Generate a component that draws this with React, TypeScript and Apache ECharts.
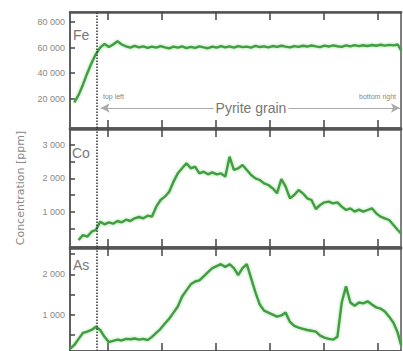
import React, { useEffect, useRef } from "react";
import * as echarts from "echarts";

// distance along the traverse (arbitrary units)
const distance = [
  0, 8, 16, 24, 32, 40, 48, 56, 64, 72, 80, 88, 96, 104, 112, 120, 128, 136, 144, 152,
  160, 168, 176, 184, 192, 200, 208, 216, 224, 232, 240, 248, 256, 264, 272, 280, 288, 296, 304, 312,
  320, 328, 336, 344, 352, 360, 368, 376, 384, 392, 400, 408, 416, 424, 432, 440, 448, 456, 464, 472,
  480, 488, 496, 504, 512, 520, 528, 536, 544, 552, 560, 568, 576, 584, 592, 600, 608, 614,
];

const fe = [
  null, 17000, 23000, 31000, 40000, 48000, 55000, 60000, 63000, 60500, 62500, 65000, 62500, 61000, 60000, 61500, 60200, 61000, 59800, 60800,
  60000, 61200, 60300, 59500, 60800, 60000, 61000, 59700, 60600, 59800, 61000, 60200, 59600, 60900, 60100, 61300, 60200, 61000, 60000, 61200,
  60400, 60800, 60100, 61400, 60500, 61000, 60200, 61300, 60600, 61500, 60800, 60200, 61200, 60600, 61500, 60900, 61700, 61000, 60400, 61600,
  60900, 61800, 61100, 60600, 61800, 61000, 62000, 61200, 61900, 61300, 62100, 61500, 62300, 61600, 62200, 61800, 62500, 58000,
];

const co = [
  null, null, 150, 300, 250, 400, 450, 700, 620, 680, 640, 720, 680, 760, 720, 800, 840, 800, 880, 850,
  1150, 1350, 1450, 1600, 1900, 2150, 2300, 2450, 2300, 2350, 2150, 2200, 2120, 2180, 2120, 2150, 2050, 2650, 2250, 2300,
  2400, 2250, 2100, 2000, 1950, 1850, 1800, 1700, 1550, 1980, 1750, 1400, 1500, 1650, 1550, 1400, 1350, 1080, 1200, 1280,
  1300, 1250, 1280, 1150, 1050, 1100, 1000, 1060, 1000, 1050, 1100, 950, 850, 800, 750, 600, 450, 350,
];

const as = [
  150, 250, 400, 550, 580, 620, 700, 620, 450, 320, 350, 380, 360, 400, 390, 410, 380, 400, 370, 450,
  550, 650, 780, 900, 1050, 1200, 1450, 1600, 1750, 1820, 1850, 1950, 2050, 2150, 2200, 2250, 2180, 2250, 2150, 1980,
  2150, 2250, 1900, 1550, 1250, 1100, 1050, 1000, 950, 980, 1050, 820, 720, 680, 650, 620, 600, 580, 480, 430,
  400, 380, 450, 1300, 1700, 1300, 1220, 1300, 1280, 1330, 1250, 1180, 1150, 1080, 950, 800, 550, 250,
];

const xTicks = [70, 170, 270, 370, 470, 570];
const feTicks = [20000, 40000, 60000, 80000];
const coLabels = [1000, 2000, 3000];
const coTicks = [500, 1000, 1500, 2000, 2500, 3000];
const asLabels = [1000, 2000];
const asTicks = [500, 1000, 1500, 2000, 2500];
const elements = ["Fe", "Co", "As"];
const grainStart = 50;
const arrowLevel = 12700;

const fmt = (v: number) => {
  const s = String(Math.round(v));
  return s.length > 3 ? s.slice(0, s.length - 3) + " " + s.slice(-3) : s;
};

export default function App() {
  const ref = useRef<HTMLDivElement>(null);
  useEffect(() => {
    if (!ref.current) return;
    const chart = echarts.init(ref.current, null, { renderer: "svg" });
    const grids = [
      { left: 70, top: 12, width: 331, height: 116 },
      { left: 70, top: 129, width: 331, height: 118 },
      { left: 70, top: 248, width: 331, height: 106 },
    ].map((g) => ({ ...g, show: true, borderColor: "#555", borderWidth: 1.5, backgroundColor: "#fff" }));

    const xAxes: any[] = [];
    for (let i = 0; i < 3; i++) {
      for (const pos of ["bottom", "top"]) {
        xAxes.push({
          type: "value",
          gridIndex: i,
          position: pos,
          min: 0,
          max: 614,
          axisLine: { show: true, onZero: false, lineStyle: { color: "#555", width: 2.5 } },
          axisTick: { show: true, inside: true, length: 8, customValues: xTicks, lineStyle: { color: "#444", width: 1.5 } },
          axisLabel: { show: false },
          splitLine: { show: false },
        });
      }
    }

    const labelStyle = { color: "#888", fontSize: 9, fontFamily: "Liberation Sans", margin: 5, formatter: fmt };
    const yAxes: any[] = [
      {
        type: "value", gridIndex: 0, min: -3000, max: 88000,
        axisLine: { show: true, lineStyle: { color: "#555", width: 1.5 } },
        axisTick: { show: true, inside: true, length: 5, customValues: feTicks, lineStyle: { color: "#444", width: 1.5 } },
        axisLabel: { ...labelStyle, customValues: feTicks },
        splitLine: { show: false },
      },
      {
        type: "value", gridIndex: 1, min: -60, max: 3480,
        name: "Concentration [ppm]", nameLocation: "middle", nameGap: 44,
        nameTextStyle: { color: "#888", fontSize: 11, fontFamily: "DejaVu Sans" },
        axisLine: { show: true, lineStyle: { color: "#555", width: 1.5 } },
        axisTick: { show: true, inside: true, length: 5, customValues: coTicks, lineStyle: { color: "#444", width: 1.5 } },
        axisLabel: { ...labelStyle, customValues: coLabels },
        splitLine: { show: false },
      },
      {
        type: "value", gridIndex: 2, min: 100, max: 2650,
        axisLine: { show: true, lineStyle: { color: "#555", width: 1.5 } },
        axisTick: { show: true, inside: true, length: 5, customValues: asTicks, lineStyle: { color: "#444", width: 1.5 } },
        axisLabel: { ...labelStyle, customValues: asLabels },
        splitLine: { show: false },
      },
    ];

    const dotted = {
      silent: true,
      symbol: "none",
      label: { show: false },
      lineStyle: { type: "dotted", color: "#333", width: 1.5 },
      data: [{ xAxis: grainStart }],
    };

    const mk = (vals: (number | null)[], i: number, extra: any = {}) => ({
      type: "line",
      name: elements[i],
      xAxisIndex: i * 2,
      yAxisIndex: i,
      data: distance.map((d, k) => [d, vals[k]]),
      showSymbol: false,
      connectNulls: false,
      lineStyle: { color: "#3f9e3f", width: 2.4, shadowColor: "rgba(90,190,90,0.6)", shadowBlur: 3 },
      clip: true,
      ...extra,
    });

    const arrowLine = {
      silent: true,
      symbol: ["arrow", "arrow"],
      symbolSize: [7, 9],
      label: { show: false },
      lineStyle: { type: "solid", color: "#aaa", width: 1 },
      data: [[{ coord: [57, arrowLevel] }, { coord: [612, arrowLevel] }]],
    };

    chart.setOption({
      animation: false,
      grid: grids,
      xAxis: xAxes,
      yAxis: yAxes,
      series: [
        mk(fe, 0, { markLine: dotted }),
        {
          type: "line", xAxisIndex: 0, yAxisIndex: 0, data: [], markLine: {
            ...arrowLine,
            itemStyle: { color: "#222" },
          },
        },
        mk(co, 1, { markLine: dotted }),
        mk(as, 2, { markLine: dotted }),
      ],
      graphic: [
        { type: "text", x: 73, y: 35, z: 100, style: { text: "Fe", fontSize: 14, fill: "#777", fontFamily: "Liberation Sans", verticalAlign: "middle" } },
        { type: "text", x: 72, y: 153, z: 100, style: { text: "Co", fontSize: 14, fill: "#777", fontFamily: "Liberation Sans", verticalAlign: "middle" } },
        { type: "text", x: 73, y: 265, z: 100, style: { text: "As", fontSize: 14, fill: "#777", fontFamily: "Liberation Sans", verticalAlign: "middle" } },
        { type: "text", x: 103, y: 96, z: 100, style: { text: "top left", fontSize: 7, fill: "#888", fontFamily: "Liberation Sans", verticalAlign: "middle" } },
        { type: "text", x: 396, y: 96, z: 100, style: { text: "bottom right", fontSize: 7, fill: "#888", fontFamily: "Liberation Sans", align: "right", verticalAlign: "middle" } },
        { type: "text", x: 251, y: 108, z: 100, style: { text: "Pyrite grain", fontSize: 14, fill: "#777", fontFamily: "Liberation Sans", align: "center", verticalAlign: "middle", backgroundColor: "#fff", padding: [0, 2] } },
      ],
    });
    return () => chart.dispose();
  }, []);
  return <div ref={ref} style={{ position: "fixed", left: 0, top: 0, width: 403, height: 351, background: "#fff" }} />;
}
